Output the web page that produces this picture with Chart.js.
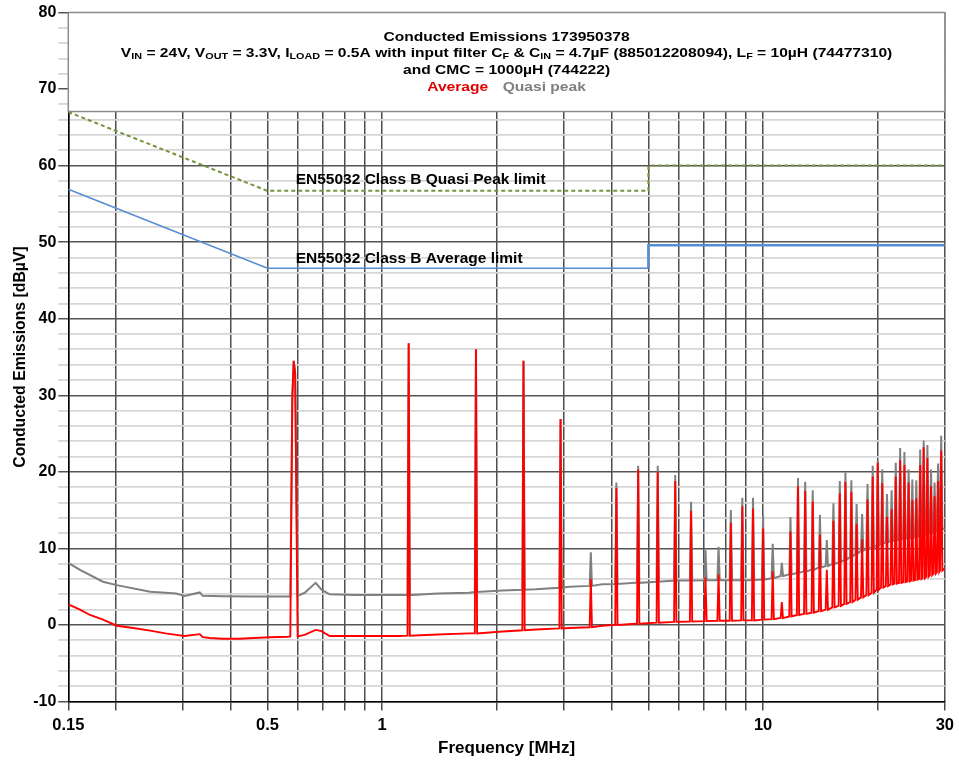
<!DOCTYPE html>
<html><head><meta charset="utf-8">
<script src="https://cdn.jsdelivr.net/npm/chart.js@4/dist/chart.umd.min.js"></script>
<style>html,body{margin:0;padding:0;background:#fff}</style>
</head><body>
<canvas id="c" width="959" height="762"></canvas>
<script>
// ---------- data ----------
const xGridValues = [0.15,0.2,0.3,0.4,0.5,0.6,0.7,0.8,0.9,1,2,3,4,5,6,7,8,9,10,20,30];
const xLabelValues = [0.15,0.5,1,10,30];
const xLabelTexts  = ['0.15','0.5','1','10','30'];

// Average (red) – baseline trace incl. fundamental spike
const avgBaseF = [0.15,0.161,0.171,0.185,0.201,0.222,0.246,0.27,0.288,0.303,0.332,0.338,0.353,0.38,0.423,0.46,0.507,0.565,0.574,0.581,0.586,0.591,0.600,0.626,0.669,0.693,0.728,0.85,1.0,1.11,1.4,1.69,2.07,2.53,3.10,3.78,4.63,5.89,7.0,8.0,9.74,14.6,17.8,21.8,24.1,26.6,30];
const avgBaseV = [2.7,2.0,1.3,0.7,-0.1,-0.4,-0.75,-1.1,-1.3,-1.45,-1.2,-1.6,-1.7,-1.8,-1.8,-1.7,-1.6,-1.55,-1.5,29.8,34.5,32.9,-1.5,-1.3,-0.65,-0.8,-1.45,-1.45,-1.45,-1.45,-1.25,-1.1,-0.85,-0.6,-0.4,-0.1,0.15,0.4,0.5,0.55,0.65,2.0,3.5,5.5,5.85,6.3,7.4];

// Quasi peak (gray) – baseline trace incl. fundamental spike
const qpBaseF = [0.15,0.161,0.185,0.201,0.246,0.27,0.288,0.303,0.332,0.338,0.38,0.45,0.507,0.565,0.574,0.581,0.586,0.591,0.600,0.626,0.669,0.693,0.728,0.85,1.13,1.4,1.69,2.07,2.53,3.10,3.78,4.63,5.89,7.0,8.5,9.74,14.6,21.8,24.1,30];
const qpBaseV = [8.1,7.2,5.65,5.2,4.35,4.2,4.1,3.8,4.25,3.8,3.75,3.7,3.7,3.7,3.7,29.8,34.5,32.9,3.8,4.2,5.5,4.6,4.0,3.9,3.9,4.1,4.2,4.5,4.65,5.0,5.3,5.5,5.8,5.85,5.85,5.9,7.8,10.9,11.3,12.6];

// Harmonic spikes (MHz) and their levels
const harmF = [1.174,1.763,2.35,2.94,3.53,4.12,4.70,5.29,5.88,6.47,7.06,7.64,8.23,8.82,9.41,10.0,10.6,11.2,11.8,12.35,12.9,13.5,14.1,14.7,15.3,15.9,16.45,17.05,17.6,18.2,18.8,19.4,20.0,20.55,21.15,21.75,22.3,22.9,23.5,24.1,24.65,25.25,25.85,26.4,27.0,27.6,28.2,28.8,29.35];
const avgPeak = [36.8,36.0,34.5,26.9,6.0,17.9,20.3,20.0,18.8,14.9,6.2,6.6,13.3,15.5,15.2,12.6,7.0,3.0,12.2,18.1,17.5,16.1,11.8,7.2,13.6,17.2,18.7,17.4,13.2,11.2,16.4,19.4,21.2,18.5,14.1,15.1,19.4,21.5,20.9,18.6,16.3,16.5,20.9,23.2,21.8,18.1,16.8,18.8,22.8];
const avgFoot = [-1.4,-1.1,-0.7,-0.45,-0.3,0.0,0.15,0.3,0.4,0.45,0.5,0.55,0.55,0.6,0.6,0.7,0.75,0.9,1.1,1.3,1.45,1.6,1.8,2.0,2.3,2.5,2.75,3.0,3.3,3.6,3.9,4.2,4.6,4.9,5.1,5.3,5.4,5.5,5.6,5.7,5.8,5.9,6.0,6.1,6.3,6.5,6.7,6.9,7.1];
const qpPeak = [36.8,36.0,34.5,26.9,9.5,18.6,20.8,20.8,19.6,16.1,9.8,10.2,15.0,16.6,16.6,14.4,10.6,8.1,14.1,19.2,18.7,17.6,14.4,11.1,15.9,18.8,19.9,18.9,15.8,14.5,18.4,20.8,21.5,20.3,17.1,17.6,21.2,23.1,22.6,20.3,19.0,18.9,22.9,24.1,23.5,20.3,18.6,21.1,24.7];
const qpFoot = [3.9,4.3,4.6,4.85,5.1,5.35,5.5,5.65,5.8,5.8,5.85,5.85,5.85,5.85,5.85,5.9,6.1,6.4,6.6,6.8,7.0,7.2,7.5,7.7,7.95,8.2,8.5,8.9,9.3,9.7,9.9,10.1,10.4,10.6,10.8,10.95,11.05,11.15,11.25,11.3,11.4,11.5,11.6,11.75,11.9,12.05,12.2,12.35,12.5];

// EN55032 Class B limits
const qpLimitF  = [0.15,0.5,5,5,30];
const qpLimitV  = [67.0,56.7,56.7,60,60];
const avgLimitF = [0.15,0.5,5,5,30];
const avgLimitV = [56.9,46.6,46.6,49.6,49.6];

// Texts
const titleLine1 = 'Conducted Emissions 173950378';
const titleLine2 = [['V',0],['IN',1],[' = 24V, V',0],['OUT',1],[' = 3.3V, I',0],['LOAD',1],[' = 0.5A with input filter C',0],['F',1],[' & C',0],['IN',1],[' = 4.7µF (885012208094), L',0],['F',1],[' = 10µH (74477310)',0]];
const titleLine3 = 'and CMC = 1000µH (744222)';
const legendTexts = ['Average','Quasi peak'];
const qpLimitLabel = 'EN55032 Class B Quasi Peak limit';
const avgLimitLabel = 'EN55032 Class B Average limit';

// ---------- build ----------
const SPK = 1.007;
function buildSeries(bF,bV,hF,hP,hFt){
  const pts=[];
  bF.forEach((f,i)=>{
    if(!hF.some(h=>f>h/(SPK*SPK)&&f<h*SPK*SPK)) pts.push({x:f,y:bV[i]});
  });
  hF.forEach((f,i)=>{pts.push({x:f/SPK,y:hFt[i]},{x:f,y:hP[i]},{x:f*SPK,y:hFt[i]});});
  pts.sort((a,b)=>a.x-b.x);
  return pts;
}
const pairs=(F,V)=>F.map((f,i)=>({x:f,y:V[i]}));

const FONT="'Liberation Sans', Arial, sans-serif";
const SX=1.2; // horizontal stretch of the header texts

const overlay={
  id:'overlay',
  beforeDatasetsDraw(chart){
    const {ctx,chartArea:a}=chart;
    ctx.save();
    const bt=a.top, bb=a.top+99;
    ctx.fillStyle='#fff';
    ctx.fillRect(a.left,bt,a.right-a.left,bb-bt);
    ctx.strokeStyle='#8c8c8c';ctx.lineWidth=1.5;
    ctx.strokeRect(a.left,bt,a.right-a.left,bb-bt);
    const cx=(a.left+a.right)/2;
    ctx.translate(cx,0);ctx.scale(SX,1);
    ctx.fillStyle='#000';ctx.textBaseline='middle';ctx.textAlign='center';
    const mf='bold 13px '+FONT, sf='bold 9px '+FONT;
    ctx.font=mf;
    ctx.fillText(titleLine1,0,bt+24.5);
    ctx.fillText(titleLine3,0,bt+58);
    let w=0;
    titleLine2.forEach(([t,s])=>{ctx.font=s?sf:mf;w+=ctx.measureText(t).width;});
    let x=-w/2;ctx.textAlign='left';
    titleLine2.forEach(([t,s])=>{ctx.font=s?sf:mf;ctx.fillText(t,x,bt+41+(s?3:0));x+=ctx.measureText(t).width;});
    ctx.font=mf;
    const w1=ctx.measureText(legendTexts[0]).width,w2=ctx.measureText(legendTexts[1]).width,gap=12;
    let lx=-(w1+gap+w2)/2;
    ctx.fillStyle='#e00000';ctx.fillText(legendTexts[0],lx,bt+74.5);
    ctx.fillStyle='#7f7f7f';ctx.fillText(legendTexts[1],lx+w1+gap,bt+74.5);
    ctx.restore();
  },
  afterDatasetsDraw(chart){
    const {ctx,scales:{x,y}}=chart;
    ctx.save();
    ctx.font='bold 15.5px '+FONT;ctx.fillStyle='#000';ctx.textAlign='left';ctx.textBaseline='middle';
    const lx=x.getPixelForValue(0.593);
    ctx.fillText(qpLimitLabel,lx,y.getPixelForValue(58.1));
    ctx.fillText(avgLimitLabel,lx,y.getPixelForValue(47.9));
    ctx.restore();
  }
};

new Chart(document.getElementById('c'),{
  type:'line',
  data:{datasets:[
    {label:'Average',data:buildSeries(avgBaseF,avgBaseV,harmF,avgPeak,avgFoot),borderColor:'#ff0000',borderWidth:1.9,pointRadius:0,tension:0},
    {label:'Quasi peak',data:buildSeries(qpBaseF,qpBaseV,harmF,qpPeak,qpFoot),borderColor:'#808080',borderWidth:2,pointRadius:0,tension:0},
    {label:'QP limit',data:pairs(qpLimitF,qpLimitV),borderColor:'#76923c',borderWidth:2,borderDash:[4,3],pointRadius:0,tension:0},
    {label:'AV limit a',data:pairs(avgLimitF,avgLimitV).slice(0,3),borderColor:'#558ed5',borderWidth:1.6,pointRadius:0,tension:0},
    {label:'AV limit b',data:pairs(avgLimitF,avgLimitV).slice(2),borderColor:'#558ed5',borderWidth:2.6,pointRadius:0,tension:0}
  ]},
  options:{
    responsive:false,animation:false,events:[],
    layout:{padding:{top:12.5,right:13,left:0,bottom:0}},
    plugins:{legend:{display:false},tooltip:{enabled:false},title:{display:false}},
    scales:{
      x:{type:'logarithmic',min:0.15,max:30,
        afterBuildTicks(s){s.ticks=xGridValues.map(v=>({value:v}));},
        afterFit(s){s.height=60.5;},
        ticks:{autoSkip:false,maxRotation:0,padding:5,color:'#000',font:{family:FONT,size:16.5,weight:'bold'},
          callback(v){const i=xLabelValues.findIndex(l=>Math.abs(l-v)<1e-9);return i>=0?xLabelTexts[i]:'';}},
        grid:{color:'#4d4d4d',lineWidth:1.5,tickLength:9},
        border:{color:'#000',width:1.5},
        title:{display:true,text:'Frequency [MHz]',color:'#000',font:{family:FONT,size:17,weight:'bold'},padding:{top:2,bottom:3}}
      },
      y:{type:'linear',min:-10,max:80,
        afterFit(s){s.width=68.3;},
        ticks:{stepSize:2,autoSkip:false,padding:2,color:'#000',font:{family:FONT,size:16,weight:'bold'},
          callback(v){return v%10===0?String(v):'';}},
        grid:{color(c){return c.tick&&c.tick.value%10===0?'#555':'#d6d6d6';},lineWidth(c){return c.tick&&c.tick.value%10===0?1.5:1.8;},tickLength:10},
        border:{color:'#000',width:1.5},
        title:{display:true,text:'Conducted Emissions [dBµV]',color:'#000',font:{family:FONT,size:15.8,weight:'bold'},padding:{top:11,bottom:4}}
      }
    }
  },
  plugins:[overlay]
});
</script>
</body></html>
